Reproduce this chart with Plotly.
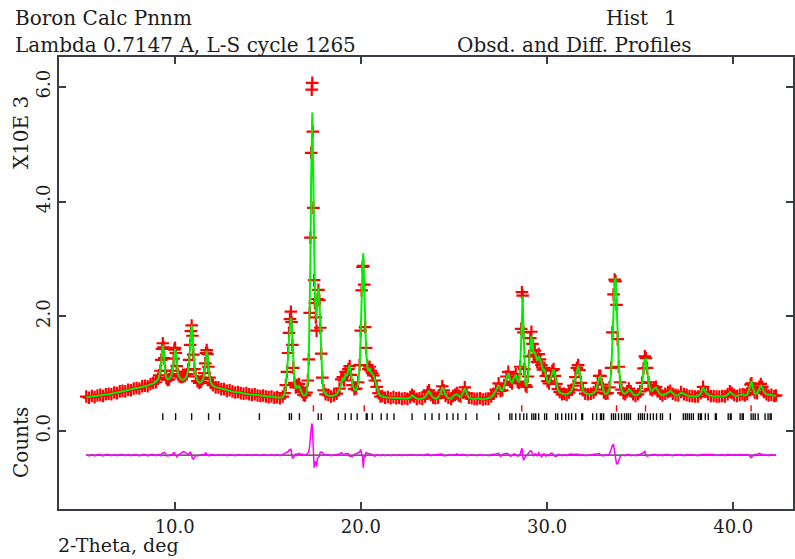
import plotly.graph_objects as go

# ---------------------------------------------------------------
# Rietveld refinement, boron (Pnnm), histogram 1
# 2-theta (deg), calculated and observed counts (x 10^3)
# ---------------------------------------------------------------
two_theta = [
    5.25, 5.4, 5.55, 5.7, 5.85, 6.0, 6.15, 6.3, 6.45, 6.6, 6.75, 6.9, 7.05, 7.2, 7.35, 7.5,
    7.65, 7.8, 7.95, 8.1, 8.25, 8.4, 8.55, 8.7, 8.85, 9.0, 9.1, 9.17, 9.23, 9.28, 9.32, 9.36,
    9.40, 9.44, 9.49, 9.55, 9.62, 9.7, 9.8, 9.88, 9.94, 9.98, 10.02, 10.06, 10.11, 10.17, 10.25,
    10.35, 10.45, 10.55, 10.65, 10.72, 10.78, 10.83, 10.87, 10.91, 10.95, 11.0, 11.06, 11.13,
    11.22, 11.32, 11.42, 11.52, 11.59, 11.64, 11.68, 11.72, 11.76, 11.81, 11.87, 11.95, 12.05,
    12.2, 12.35, 12.5, 12.65, 12.8, 12.95, 13.1, 13.25, 13.4, 13.55, 13.7, 13.85, 14.0, 14.15,
    14.3, 14.45, 14.6, 14.75, 14.9, 15.05, 15.2, 15.35, 15.5, 15.65, 15.8, 15.9, 15.97, 16.03,
    16.09, 16.14, 16.19, 16.24, 16.28, 16.32, 16.37, 16.43, 16.5, 16.56, 16.62, 16.68, 16.75,
    16.83, 16.92, 17.0, 17.08, 17.15, 17.2, 17.25, 17.29, 17.33, 17.36, 17.39, 17.42, 17.45,
    17.49, 17.53, 17.58, 17.62, 17.67, 17.72, 17.77, 17.82, 17.87, 17.93, 18.0, 18.1, 18.25,
    18.4, 18.55, 18.7, 18.85, 18.95, 19.03, 19.1, 19.18, 19.25, 19.33, 19.4, 19.47, 19.55,
    19.65, 19.75, 19.85, 19.93, 19.99, 20.04, 20.09, 20.13, 20.18, 20.23, 20.28, 20.34, 20.4,
    20.47, 20.53, 20.6, 20.67, 20.75, 20.85, 20.95, 21.05, 21.15, 21.3, 21.45, 21.6, 21.75,
    21.9, 22.05, 22.2, 22.35, 22.5, 22.65, 22.75, 22.85, 23.0, 23.15, 23.3, 23.45, 23.58,
    23.66, 23.75, 23.88, 24.0, 24.15, 24.28, 24.37, 24.45, 24.55, 24.7, 24.85, 24.95, 25.05,
    25.15, 25.25, 25.35, 25.48, 25.58, 25.68, 25.8, 25.95, 26.1, 26.25, 26.4, 26.55, 26.7,
    26.85, 27.0, 27.12, 27.25, 27.4, 27.5, 27.6, 27.7, 27.82, 27.92, 28.02, 28.12, 28.22,
    28.32, 28.42, 28.5, 28.56, 28.61, 28.65, 28.69, 28.73, 28.78, 28.84, 28.9, 28.97, 29.04,
    29.1, 29.16, 29.22, 29.28, 29.34, 29.4, 29.47, 29.55, 29.62, 29.7, 29.78, 29.86, 29.94,
    30.02, 30.1, 30.2, 30.28, 30.35, 30.42, 30.5, 30.58, 30.68, 30.8, 30.92, 31.05, 31.18,
    31.3, 31.42, 31.52, 31.6, 31.67, 31.74, 31.82, 31.92, 32.05, 32.2, 32.35, 32.5, 32.62,
    32.72, 32.8, 32.87, 32.95, 33.05, 33.15, 33.25, 33.35, 33.44, 33.51, 33.57, 33.63, 33.68,
    33.73, 33.79, 33.85, 33.92, 34.0, 34.1, 34.2, 34.3, 34.4, 34.5, 34.62, 34.75, 34.88, 35.0,
    35.1, 35.18, 35.25, 35.31, 35.37, 35.45, 35.55, 35.65, 35.75, 35.85, 35.95, 36.08, 36.2,
    36.35, 36.5, 36.62, 36.75, 36.9, 37.05, 37.2, 37.35, 37.5, 37.65, 37.8, 37.95, 38.1,
    38.25, 38.38, 38.5, 38.65, 38.8, 38.95, 39.1, 39.25, 39.4, 39.55, 39.7, 39.82, 39.92,
    40.05, 40.2, 40.35, 40.5, 40.62, 40.75, 40.85, 40.93, 40.98, 41.05, 41.15, 41.28, 41.4,
    41.48, 41.56, 41.65, 41.78, 41.9, 42.05, 42.2, 42.3,
]

calc_counts = [
    0.59, 0.595, 0.60, 0.605, 0.61, 0.62, 0.625, 0.63, 0.64, 0.65, 0.66, 0.67, 0.68, 0.69, 0.70, 0.71,
    0.72, 0.73, 0.745, 0.755, 0.77, 0.78, 0.795, 0.81, 0.83, 0.86, 0.90, 0.96, 1.06, 1.22, 1.40, 1.50,
    1.42, 1.22, 1.02, 0.93, 0.90, 0.91, 0.95, 1.04, 1.22, 1.38, 1.43, 1.36, 1.16, 1.00, 0.94,
    0.90, 0.89, 0.91, 0.96, 1.06, 1.22, 1.45, 1.70, 1.85, 1.72, 1.40, 1.12, 0.96,
    0.88, 0.84, 0.85, 0.90, 1.00, 1.16, 1.32, 1.40, 1.33, 1.13, 0.94, 0.83, 0.79,
    0.765, 0.75, 0.735, 0.72, 0.71, 0.70, 0.69, 0.68, 0.67, 0.66, 0.655, 0.65, 0.64, 0.635,
    0.63, 0.62, 0.615, 0.61, 0.60, 0.595, 0.59, 0.585, 0.58, 0.58, 0.59, 0.64, 0.76, 0.98,
    1.30, 1.62, 1.86, 1.97, 1.88, 1.55, 1.15, 0.86, 0.74, 0.78, 0.76, 0.79, 0.74,
    0.66, 0.62, 0.62, 0.66, 0.85, 1.20, 1.90, 3.00, 4.40, 5.40, 5.55, 5.00, 4.10,
    2.85, 2.35, 2.10, 1.95, 2.35, 2.50, 2.30, 1.75, 1.30, 0.88, 0.70, 0.64, 0.62,
    0.61, 0.62, 0.64, 0.72, 0.86, 0.93, 0.88, 1.00, 0.96, 1.05, 1.15, 1.00, 0.82,
    0.72, 0.72, 0.82, 1.10, 1.65, 2.40, 2.90, 3.10, 2.55, 1.85, 1.40, 1.12, 1.05,
    1.10, 1.03, 1.00, 0.98, 0.90, 0.76, 0.66, 0.61, 0.60, 0.59, 0.585, 0.58, 0.585,
    0.575, 0.57, 0.57, 0.565, 0.565, 0.58, 0.62, 0.60, 0.565, 0.56, 0.565, 0.59, 0.66,
    0.70, 0.64, 0.58, 0.565, 0.58, 0.66, 0.76, 0.72, 0.62, 0.57, 0.565, 0.60, 0.63,
    0.64, 0.62, 0.59, 0.66, 0.75, 0.66, 0.58, 0.565, 0.56, 0.57, 0.56, 0.555, 0.56,
    0.57, 0.59, 0.64, 0.70, 0.80, 0.72, 0.70, 0.78, 0.92, 1.01, 0.88, 0.84, 0.92,
    0.98, 0.88, 0.85, 1.10, 1.70, 2.30, 2.35, 1.80, 1.15, 0.82, 0.78, 0.92, 1.25,
    1.55, 1.66, 1.50, 1.34, 1.38, 1.30, 1.22, 1.30, 1.24, 1.18, 1.05, 1.08, 0.98,
    0.86, 0.84, 0.92, 1.02, 1.07, 0.98, 0.84, 0.72, 0.67, 0.65, 0.64, 0.64, 0.66,
    0.70, 0.78, 0.92, 1.08, 1.14, 1.05, 0.85, 0.70, 0.66, 0.64, 0.64, 0.66, 0.70,
    0.82, 0.93, 0.95, 0.82, 0.68, 0.64, 0.66, 0.74, 1.00, 1.55, 2.20, 2.62, 2.67,
    2.35, 1.75, 1.20, 0.88, 0.72, 0.66, 0.65, 0.68, 0.73, 0.70, 0.64, 0.62, 0.63, 0.68,
    0.82, 1.05, 1.23, 1.27, 1.12, 0.86, 0.72, 0.70, 0.74, 0.76, 0.70, 0.64, 0.63,
    0.64, 0.67, 0.70, 0.66, 0.62, 0.62, 0.67, 0.65, 0.62, 0.61, 0.60, 0.60, 0.61,
    0.65, 0.76, 0.68, 0.63, 0.61, 0.60, 0.605, 0.60, 0.60, 0.61, 0.63, 0.68, 0.66,
    0.62, 0.61, 0.62, 0.64, 0.62, 0.63, 0.72, 0.85, 0.87, 0.76, 0.66, 0.65, 0.74,
    0.80, 0.76, 0.68, 0.64, 0.63, 0.62, 0.615, 0.61,
]

obs_counts = [
    0.60, 0.58, 0.61, 0.59, 0.62, 0.63, 0.61, 0.64, 0.65, 0.64, 0.67, 0.66, 0.69, 0.70, 0.69, 0.72,
    0.71, 0.74, 0.75, 0.74, 0.78, 0.79, 0.78, 0.82, 0.84, 0.85, 0.91, 0.97, 1.05, 1.24, 1.43, 1.53,
    1.46, 1.27, 1.05, 0.92, 0.89, 0.90, 0.96, 1.05, 1.26, 1.42, 1.45, 1.36, 1.13, 0.99, 0.95,
    0.94, 0.95, 0.96, 0.99, 1.07, 1.24, 1.50, 1.74, 1.84, 1.66, 1.33, 1.08, 0.95,
    0.87, 0.84, 0.86, 0.91, 1.01, 1.18, 1.36, 1.41, 1.34, 1.12, 0.93, 0.84, 0.80,
    0.76, 0.76, 0.73, 0.73, 0.70, 0.71, 0.69, 0.67, 0.68, 0.66, 0.65, 0.66, 0.64, 0.63,
    0.64, 0.62, 0.61, 0.62, 0.60, 0.59, 0.60, 0.58, 0.59, 0.57, 0.60, 0.66, 0.80, 1.03,
    1.36, 1.71, 1.95, 2.08, 1.90, 1.50, 1.10, 0.84, 0.76, 0.80, 0.77, 0.82, 0.75,
    0.68, 0.63, 0.62, 0.67, 0.88, 1.25, 2.06, 3.37, 4.85, 5.95, 6.07, 5.22, 3.89,
    2.63, 2.23, 1.98, 1.75, 2.30, 2.46, 2.28, 1.80, 1.35, 0.93, 0.71, 0.64, 0.63,
    0.60, 0.62, 0.65, 0.74, 0.90, 0.94, 0.88, 1.03, 0.98, 1.08, 1.13, 0.98, 0.80,
    0.73, 0.74, 0.85, 1.15, 1.75, 2.45, 2.86, 2.88, 2.55, 1.81, 1.45, 1.15, 1.08,
    1.12, 1.05, 1.01, 0.97, 0.88, 0.77, 0.66, 0.60, 0.61, 0.58, 0.59, 0.57, 0.59,
    0.57, 0.58, 0.56, 0.57, 0.56, 0.59, 0.63, 0.60, 0.56, 0.57, 0.56, 0.60, 0.68,
    0.71, 0.63, 0.58, 0.57, 0.58, 0.67, 0.78, 0.71, 0.61, 0.58, 0.56, 0.61, 0.63,
    0.66, 0.62, 0.60, 0.67, 0.76, 0.65, 0.58, 0.57, 0.56, 0.56, 0.57, 0.55, 0.56,
    0.56, 0.60, 0.65, 0.72, 0.83, 0.70, 0.71, 0.80, 0.95, 1.03, 0.86, 0.83, 0.94,
    0.99, 0.86, 0.84, 1.12, 1.78, 2.42, 2.36, 1.72, 1.08, 0.80, 0.77, 0.95, 1.30,
    1.62, 1.73, 1.52, 1.33, 1.40, 1.32, 1.20, 1.34, 1.25, 1.15, 1.07, 1.10, 0.96,
    0.87, 0.83, 0.95, 1.05, 1.08, 0.96, 0.82, 0.73, 0.68, 0.64, 0.65, 0.63, 0.67,
    0.72, 0.79, 0.94, 1.10, 1.15, 1.06, 0.84, 0.71, 0.65, 0.64, 0.65, 0.67, 0.72,
    0.84, 0.96, 0.96, 0.81, 0.67, 0.65, 0.66, 0.76, 1.10, 1.72, 2.38, 2.64, 2.61,
    2.20, 1.60, 1.12, 0.85, 0.72, 0.66, 0.64, 0.69, 0.74, 0.69, 0.64, 0.61, 0.64, 0.69,
    0.84, 1.09, 1.30, 1.27, 1.10, 0.85, 0.73, 0.71, 0.75, 0.77, 0.69, 0.65, 0.62,
    0.65, 0.68, 0.70, 0.65, 0.63, 0.62, 0.68, 0.64, 0.63, 0.61, 0.61, 0.60, 0.60,
    0.66, 0.77, 0.68, 0.64, 0.61, 0.61, 0.60, 0.60, 0.61, 0.60, 0.64, 0.69, 0.66,
    0.63, 0.61, 0.63, 0.64, 0.62, 0.64, 0.72, 0.81, 0.83, 0.75, 0.67, 0.66, 0.77,
    0.82, 0.77, 0.68, 0.64, 0.62, 0.63, 0.61, 0.62,
]

# Bragg reflection positions (deg 2-theta): main phase and second phase
refl_main = [
    9.36, 10.05, 10.91, 11.82, 12.41, 14.55, 16.16, 16.27, 16.70, 17.71, 17.87, 18.79, 19.16,
    19.48, 19.80, 20.29, 20.34, 20.61, 21.09, 21.41, 21.78, 22.75, 23.45, 23.82, 24.20, 24.62,
    24.95, 25.21, 25.64, 26.23, 27.41, 28.00, 28.11, 28.32, 28.54, 28.75, 28.91, 29.18, 29.29,
    29.39, 29.55, 29.87, 29.98, 30.46, 30.57, 30.79, 31.00, 31.16, 31.32, 31.54, 31.86, 31.91,
    32.45, 32.66, 32.87, 32.93, 33.04, 33.46, 33.57, 33.68, 33.84, 34.00, 34.16, 34.27, 34.37,
    34.48, 34.91, 35.02, 35.12, 35.23, 35.39, 35.55, 35.71, 35.88, 36.09, 36.20, 36.62, 37.32,
    37.43, 37.53, 37.64, 37.75, 37.86, 38.13, 38.23, 38.29, 38.50, 38.66, 39.04, 39.09, 39.73,
    39.84, 39.89, 40.37, 40.48, 40.54, 40.96, 41.07, 41.18, 41.34, 41.71, 41.87, 41.98, 42.04,
]
refl_second = [17.45, 20.18, 28.64, 33.73, 35.29, 40.96]

diff_offset = -0.42
x_ticks = [10, 20, 30, 40]
x_tick_text = ["10.0", "20.0", "30.0", "40.0"]
y_ticks = [0, 2, 4, 6]
y_tick_text = ["0.0", "2.0", "4.0", "6.0"]

FONT = "DejaVu Serif"
AXIS_COLOR = "#3b3b48"
TEXT_COLOR = "#1c1c1c"

W, H = 795, 559
L, R, T, B = 59, 0, 57, 50


def px_to_paper(px, py):
    return (px - L) / (W - L - R), 1 - (py - T) / (H - T - B)


def tick_segments(positions, y0, y1):
    xs, ys = [], []
    for p in positions:
        xs += [p, p, None]
        ys += [y0, y1, None]
    return xs, ys


diff = [o - c + diff_offset for o, c in zip(obs_counts, calc_counts)]

fig = go.Figure()

# zero line of the difference curve
fig.add_trace(go.Scatter(
    x=[two_theta[0], two_theta[-1]], y=[diff_offset, diff_offset],
    mode="lines", line=dict(color="#333333", width=1.4), hoverinfo="skip"))

# difference profile
fig.add_trace(go.Scatter(
    x=two_theta, y=diff, mode="lines",
    line=dict(color="#ff00ff", width=1.5)))

# reflection markers
mx, my = tick_segments(refl_main, 0.19, 0.31)
fig.add_trace(go.Scatter(x=mx, y=my, mode="lines",
                         line=dict(color="#111111", width=1.4), hoverinfo="skip"))
sx, sy = tick_segments(refl_second, 0.34, 0.45)
fig.add_trace(go.Scatter(x=sx, y=sy, mode="lines",
                         line=dict(color="#ff0000", width=1.4), hoverinfo="skip"))

# observed points
fig.add_trace(go.Scatter(
    x=two_theta, y=obs_counts, mode="markers",
    marker=dict(symbol="cross-thin", size=9,
                line=dict(color="#ff0000", width=2.2), color="#ff0000")))

# calculated profile
fig.add_trace(go.Scatter(
    x=two_theta, y=calc_counts, mode="lines",
    line=dict(color="#00f000", width=2)))

axis_common = dict(
    showgrid=False, zeroline=False, showline=True, linecolor=AXIS_COLOR, linewidth=2,
    mirror="ticks", ticks="inside", ticklen=7, tickwidth=1.5, tickcolor=AXIS_COLOR,
    tickfont=dict(family=FONT, size=18, color=TEXT_COLOR),
)

fig.update_layout(
    width=W, height=H,
    margin=dict(l=L, r=R, t=T, b=B),
    paper_bgcolor="white", plot_bgcolor="white",
    showlegend=False,
    xaxis=dict(range=[3.786, 43.21], tickvals=x_ticks, ticktext=x_tick_text, **axis_common),
    yaxis=dict(range=[-1.36, 6.52], tickvals=y_ticks, ticktext=y_tick_text,
               tickangle=-90, **axis_common),
)


def label(text, px, py, xanchor="left", angle=0, size=20):
    x, y = px_to_paper(px, py)
    fig.add_annotation(text=text, x=x, y=y, xref="paper", yref="paper",
                       xanchor=xanchor, yanchor="middle", showarrow=False,
                       textangle=angle,
                       font=dict(family=FONT, size=size, color=TEXT_COLOR))


label("Boron Calc Pnnm", 13, 18)
label("Lambda 0.7147 A, L-S cycle 1265", 13, 45)
label("Hist", 605, 18)
label("1", 664, 18)
label("Obsd. and Diff. Profiles", 456, 45)
label("X10E 3", 21, 133, xanchor="center", angle=-90)
label("Counts", 21, 443, xanchor="center", angle=-90)
label("2-Theta, deg", 56, 545, size=19)

fig.write_html("out.html")
